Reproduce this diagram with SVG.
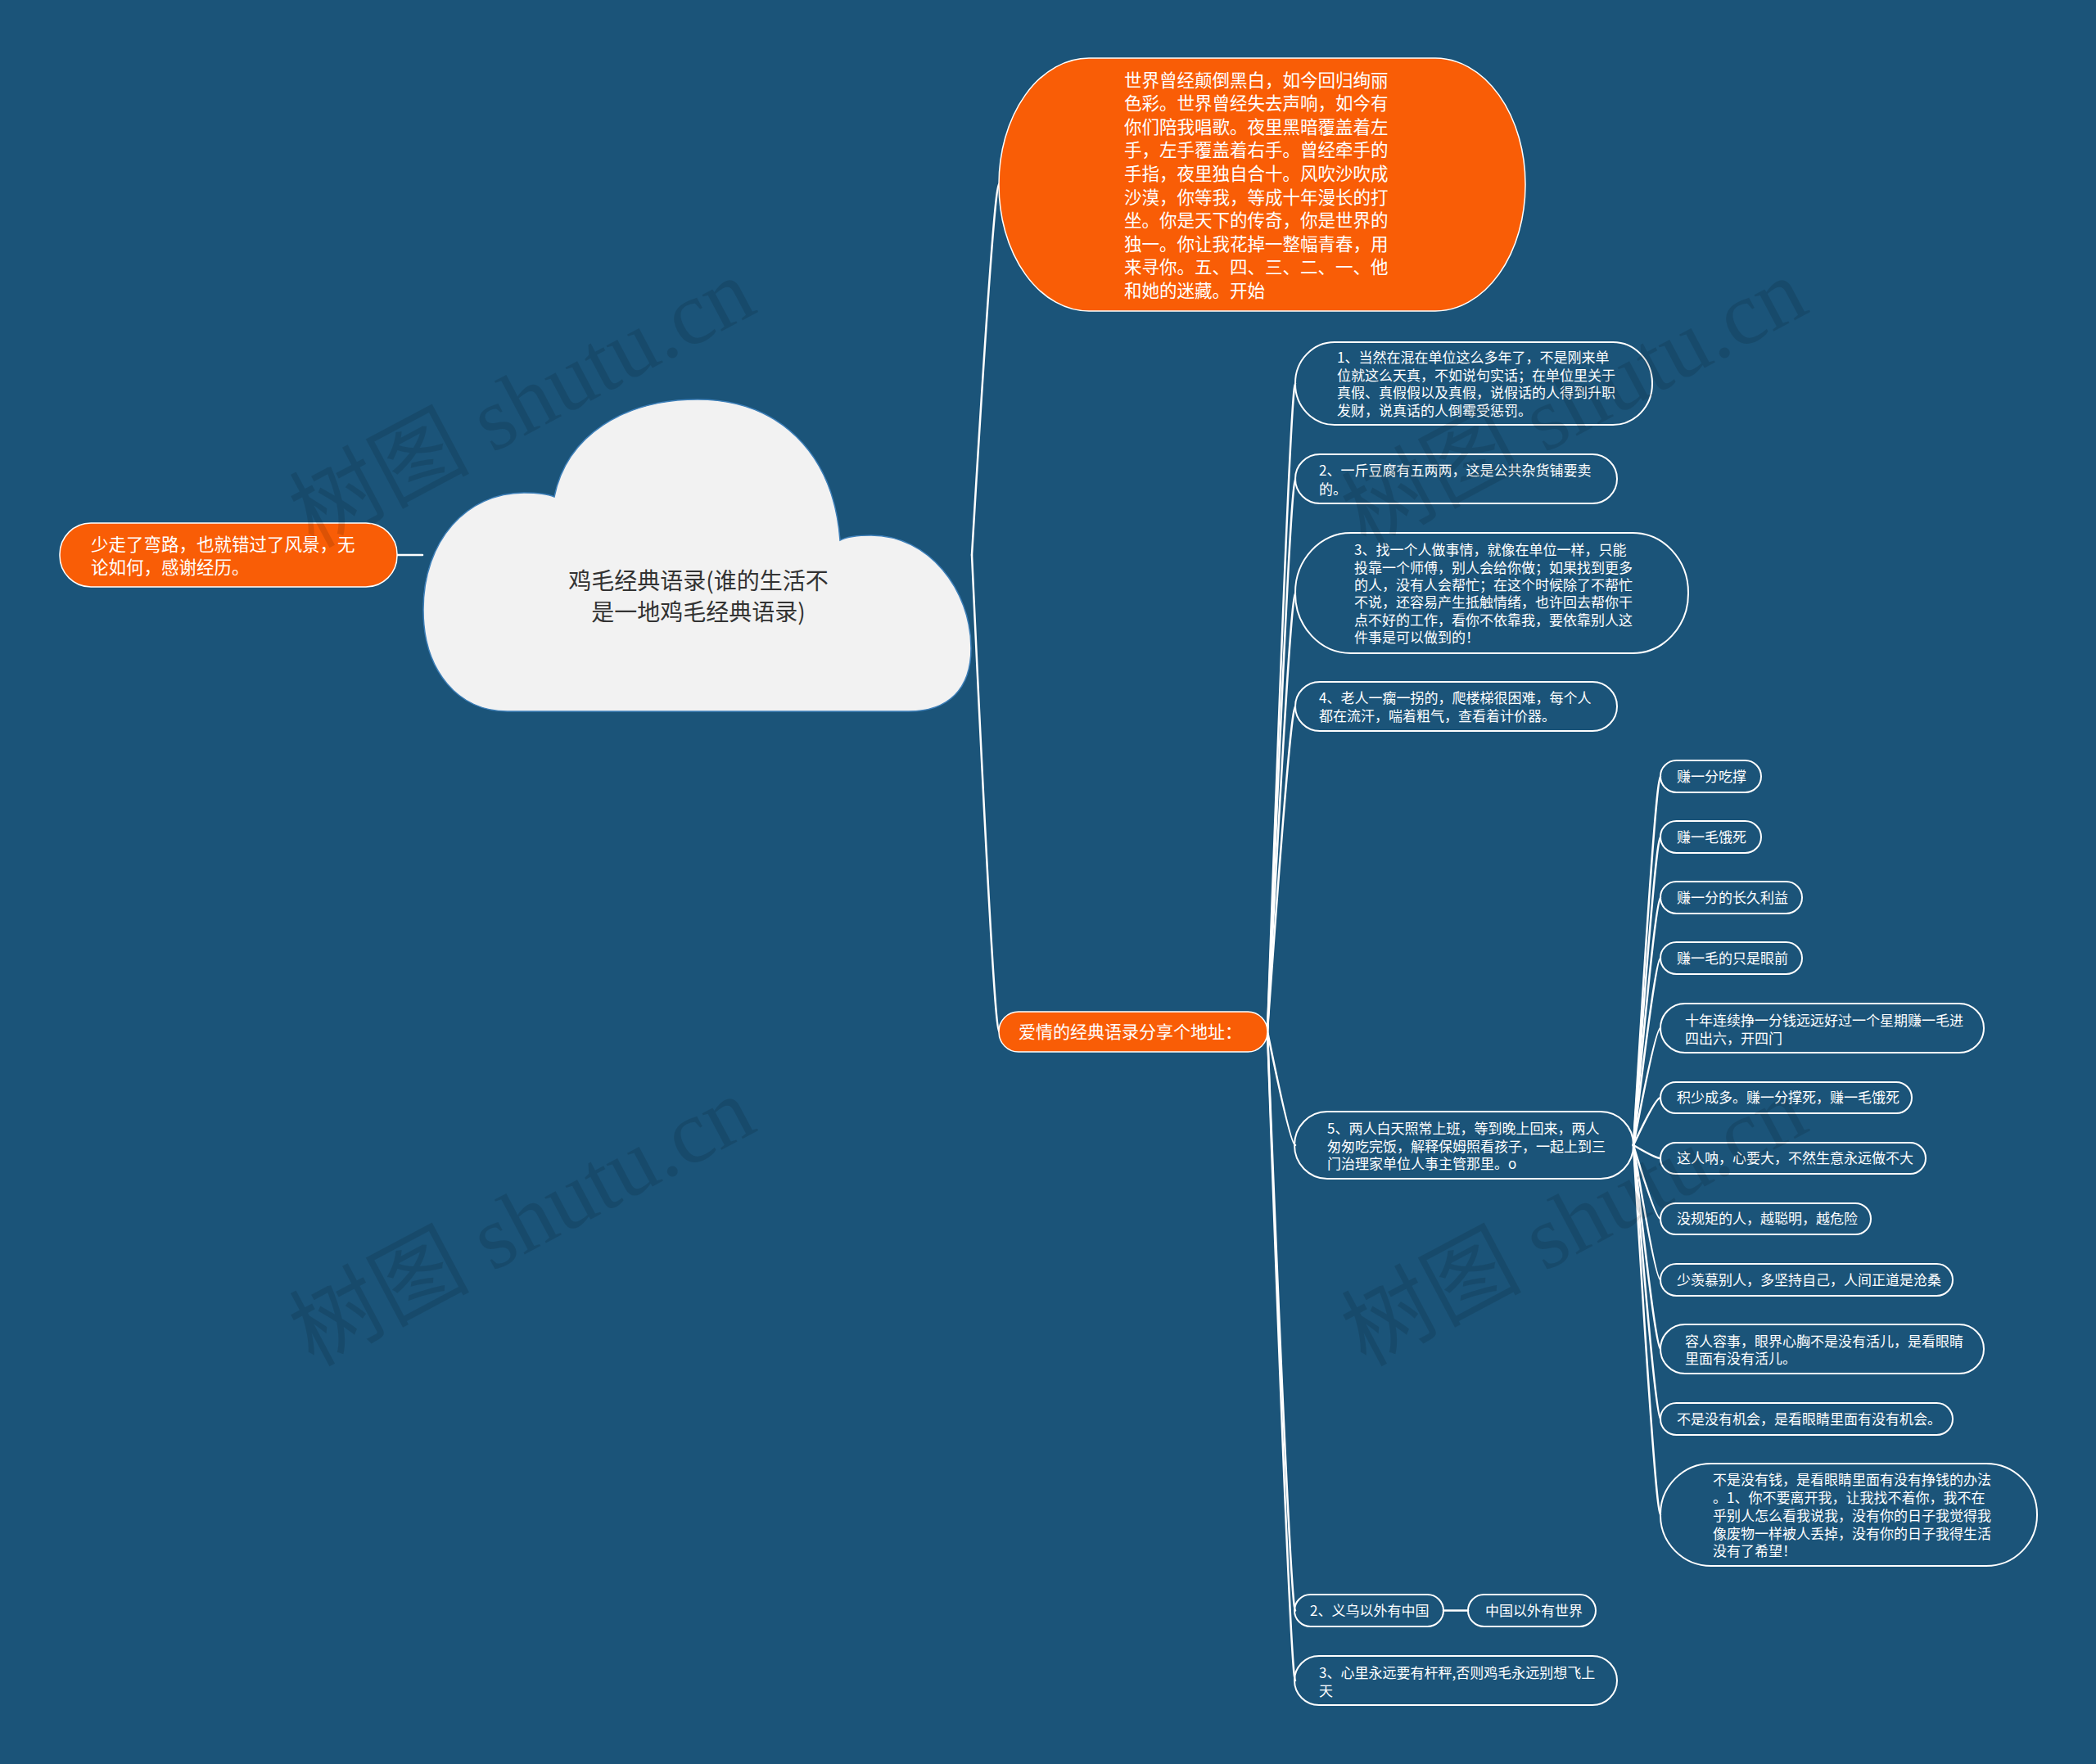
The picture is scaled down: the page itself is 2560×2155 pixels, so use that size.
<svg xmlns="http://www.w3.org/2000/svg" width="2560" height="2155" viewBox="0 0 2560 2155">
<style>
.bg{fill:#1b5479}
.or{fill:#f95d06;stroke:#ffffff;stroke-width:1.5}
.nd{fill:none;stroke:#ffffff;stroke-width:2}
.cn{fill:none;stroke:#ffffff;stroke-width:2.5;stroke-linecap:round}
text{font-family:"Noto Sans CJK SC","Noto Sans",sans-serif}
.w{fill:#ffffff;font-size:17px}
.wb{fill:#ffffff;font-size:21.5px}
.ct{fill:#333333;font-size:28px;text-anchor:middle}
.wm{font-family:"Liberation Serif","Noto Sans CJK SC",serif;font-size:110px;fill:#000000;opacity:0.11;text-anchor:middle}
</style>
<rect class="bg" x="0" y="0" width="2560" height="2155"/>

<g id="connectors">
<path class="cn" d="M485 678 L516 678"/>
<path class="cn" d="M1187 678 Q1214 225 1220 225"/>
<path class="cn" d="M1187 678 Q1214 1260 1220 1260"/>
<path class="cn" d="M1548 1260 Q1576 468.5 1582 468.5"/>
<path class="cn" d="M1548 1260 Q1576 585 1582 585"/>
<path class="cn" d="M1548 1260 Q1576 724.5 1582 724.5"/>
<path class="cn" d="M1548 1260 Q1576 863 1582 863"/>
<path class="cn" d="M1548 1260 Q1576 1399 1582 1399"/>
<path class="cn" d="M1548 1260 Q1576 1967.5 1582 1967.5"/>
<path class="cn" d="M1548 1260 Q1576 2053 1582 2053"/>
<path class="cn" d="M1763 1967.5 L1793 1967.5"/>
<path class="cn" d="M1995 1399 Q2022 948.5 2028 948.5"/>
<path class="cn" d="M1995 1399 Q2022 1022.5 2028 1022.5"/>
<path class="cn" d="M1995 1399 Q2022 1096.5 2028 1096.5"/>
<path class="cn" d="M1995 1399 Q2022 1170.5 2028 1170.5"/>
<path class="cn" d="M1995 1399 Q2022 1256 2028 1256"/>
<path class="cn" d="M1995 1399 Q2022 1341 2028 1341"/>
<path class="cn" d="M1995 1399 Q2022 1415 2028 1415"/>
<path class="cn" d="M1995 1399 Q2022 1489 2028 1489"/>
<path class="cn" d="M1995 1399 Q2022 1563.5 2028 1563.5"/>
<path class="cn" d="M1995 1399 Q2022 1648 2028 1648"/>
<path class="cn" d="M1995 1399 Q2022 1733.5 2028 1733.5"/>
<path class="cn" d="M1995 1399 Q2022 1850.5 2028 1850.5"/>
</g>

<g id="root">
<path d="M620 869 C560 869 517 820 517 745 C517 660 570 602 640 602 C658 602 670 604 677 607 C692 532 762 488 852 488 C950 488 1018 552 1026 660 C1036 655 1050 654 1064 654 C1134 654 1186 720 1186 792 C1186 842 1158 869 1110 869 Z" fill="#f2f2f2" stroke="#3d7fb8" stroke-width="1.5"/>
<text class="ct" x="853" y="720">鸡毛经典语录(谁的生活不</text>
<text class="ct" x="853" y="758">是一地鸡毛经典语录)</text>
</g>

<g id="left">
<rect class="or" x="73" y="639" width="412" height="78" rx="38" ry="38"/>
<text class="wb" x="111" y="672.5">少走了弯路，也就错过了风景，无</text>
<text class="wb" x="111" y="700.5">论如何，感谢经历。</text>
</g>

<g id="top">
<rect class="or" x="1220" y="71" width="643" height="309" rx="110" ry="154"/>
<text class="wb" x="1373" y="105.5">世界曾经颠倒黑白，如今回归绚丽</text>
<text class="wb" x="1373" y="134.1">色彩。世界曾经失去声响，如今有</text>
<text class="wb" x="1373" y="162.7">你们陪我唱歌。夜里黑暗覆盖着左</text>
<text class="wb" x="1373" y="191.3">手，左手覆盖着右手。曾经牵手的</text>
<text class="wb" x="1373" y="219.9">手指，夜里独自合十。风吹沙吹成</text>
<text class="wb" x="1373" y="248.5">沙漠，你等我，等成十年漫长的打</text>
<text class="wb" x="1373" y="277.1">坐。你是天下的传奇，你是世界的</text>
<text class="wb" x="1373" y="305.7">独一。你让我花掉一整幅青春，用</text>
<text class="wb" x="1373" y="334.3">来寻你。五、四、三、二、一、他</text>
<text class="wb" x="1373" y="362.9">和她的迷藏。开始</text>
</g>

<g id="love">
<rect class="or" x="1220" y="1236" width="328" height="49" rx="24" ry="24"/>
<text class="wb" x="1244" y="1267.5" style="font-size:21px">爱情的经典语录分享个地址：</text>
</g>

<g id="c1">
<rect class="nd" x="1582" y="418" width="436" height="101" rx="48" ry="50"/>
<text class="w" x="1633" y="443">1、当然在混在单位这么多年了，不是刚来单</text>
<text class="w" x="1633" y="464.5">位就这么天真，不如说句实话；在单位里关于</text>
<text class="w" x="1633" y="486">真假、真假假以及真假，说假话的人得到升职</text>
<text class="w" x="1633" y="507.5">发财，说真话的人倒霉受惩罚。</text>
</g>
<g id="c2">
<rect class="nd" x="1582" y="555" width="393" height="60" rx="30" ry="30"/>
<text class="w" x="1611" y="581">2、一斤豆腐有五两两，这是公共杂货铺要卖</text>
<text class="w" x="1611" y="603.5">的。</text>
</g>
<g id="c3">
<rect class="nd" x="1582" y="651" width="480" height="147" rx="68" ry="73"/>
<text class="w" x="1654" y="678">3、找一个人做事情，就像在单位一样，只能</text>
<text class="w" x="1654" y="699.5">投靠一个师傅，别人会给你做；如果找到更多</text>
<text class="w" x="1654" y="721">的人，没有人会帮忙；在这个时候除了不帮忙</text>
<text class="w" x="1654" y="742">不说，还容易产生抵触情绪，也许回去帮你干</text>
<text class="w" x="1654" y="763.5">点不好的工作，看你不依靠我，要依靠别人这</text>
<text class="w" x="1654" y="785">件事是可以做到的！</text>
</g>
<g id="c4">
<rect class="nd" x="1582" y="833" width="393" height="60" rx="30" ry="30"/>
<text class="w" x="1611" y="859">4、老人一瘸一拐的，爬楼梯很困难，每个人</text>
<text class="w" x="1611" y="880.5">都在流汗，喘着粗气，查看着计价器。</text>
</g>
<g id="c5">
<rect class="nd" x="1581" y="1358" width="414" height="82" rx="40" ry="41"/>
<text class="w" x="1621" y="1385">5、两人白天照常上班，等到晚上回来，两人</text>
<text class="w" x="1621" y="1406.5">匆匆吃完饭，解释保姆照看孩子，一起上到三</text>
<text class="w" x="1621" y="1428">门治理家单位人事主管那里。o</text>
</g>
<g id="c6">
<rect class="nd" x="1581" y="1948" width="182" height="39" rx="19.5" ry="19.5"/>
<text class="w" x="1600" y="1973.5">2、义乌以外有中国</text>
</g>
<g id="c6a">
<rect class="nd" x="1793" y="1948" width="156" height="39" rx="19.5" ry="19.5"/>
<text class="w" x="1814" y="1973.5">中国以外有世界</text>
</g>
<g id="c7">
<rect class="nd" x="1581" y="2023" width="394" height="60" rx="30" ry="30"/>
<text class="w" x="1611" y="2050">3、心里永远要有杆秤,否则鸡毛永远别想飞上</text>
<text class="w" x="1611" y="2071.5">天</text>
</g>

<g id="g1"><rect class="nd" x="2028" y="929" width="123" height="39" rx="19.5"/><text class="w" x="2048" y="954.5">赚一分吃撑</text></g>
<g id="g2"><rect class="nd" x="2028" y="1003" width="123" height="39" rx="19.5"/><text class="w" x="2048" y="1028.5">赚一毛饿死</text></g>
<g id="g3"><rect class="nd" x="2028" y="1077" width="173" height="39" rx="19.5"/><text class="w" x="2048" y="1102.5">赚一分的长久利益</text></g>
<g id="g4"><rect class="nd" x="2028" y="1151" width="173" height="39" rx="19.5"/><text class="w" x="2048" y="1176.5">赚一毛的只是眼前</text></g>
<g id="g5"><rect class="nd" x="2028" y="1226" width="395" height="60" rx="30"/>
<text class="w" x="2058" y="1253">十年连续挣一分钱远远好过一个星期赚一毛进</text>
<text class="w" x="2058" y="1274.5">四出六，开四门</text></g>
<g id="g6"><rect class="nd" x="2028" y="1322" width="307" height="38" rx="19"/><text class="w" x="2048" y="1347">积少成多。赚一分撑死，赚一毛饿死</text></g>
<g id="g7"><rect class="nd" x="2028" y="1396" width="324" height="38" rx="19"/><text class="w" x="2048" y="1421">这人呐，心要大，不然生意永远做不大</text></g>
<g id="g8"><rect class="nd" x="2028" y="1470" width="257" height="38" rx="19"/><text class="w" x="2048" y="1495">没规矩的人，越聪明，越危险</text></g>
<g id="g9"><rect class="nd" x="2028" y="1544" width="357" height="39" rx="19.5"/><text class="w" x="2048" y="1569.5">少羡慕别人，多坚持自己，人间正道是沧桑</text></g>
<g id="g10"><rect class="nd" x="2028" y="1618" width="395" height="60" rx="30"/>
<text class="w" x="2058" y="1644.5">容人容事，眼界心胸不是没有活儿，是看眼睛</text>
<text class="w" x="2058" y="1666">里面有没有活儿。</text></g>
<g id="g11"><rect class="nd" x="2028" y="1714" width="357" height="39" rx="19.5"/><text class="w" x="2048" y="1739.5">不是没有机会，是看眼睛里面有没有机会。</text></g>
<g id="g12"><rect class="nd" x="2028" y="1788" width="460" height="125" rx="62" ry="62"/>
<text class="w" x="2092" y="1814">不是没有钱，是看眼睛里面有没有挣钱的办法</text>
<text class="w" x="2092" y="1836">。1、你不要离开我，让我找不着你，我不在</text>
<text class="w" x="2092" y="1858">乎别人怎么看我说我，没有你的日子我觉得我</text>
<text class="w" x="2092" y="1879.5">像废物一样被人丢掉，没有你的日子我得生活</text>
<text class="w" x="2092" y="1901">没有了希望！</text></g>

<g id="watermarks">
<text class="wm" transform="translate(655,525) rotate(-28)">树图 shutu.cn</text>
<text class="wm" transform="translate(655,1525) rotate(-28)">树图 shutu.cn</text>
<text class="wm" transform="translate(1940,525) rotate(-28)">树图 shutu.cn</text>
<text class="wm" transform="translate(1940,1525) rotate(-28)">树图 shutu.cn</text>
</g>
</svg>
